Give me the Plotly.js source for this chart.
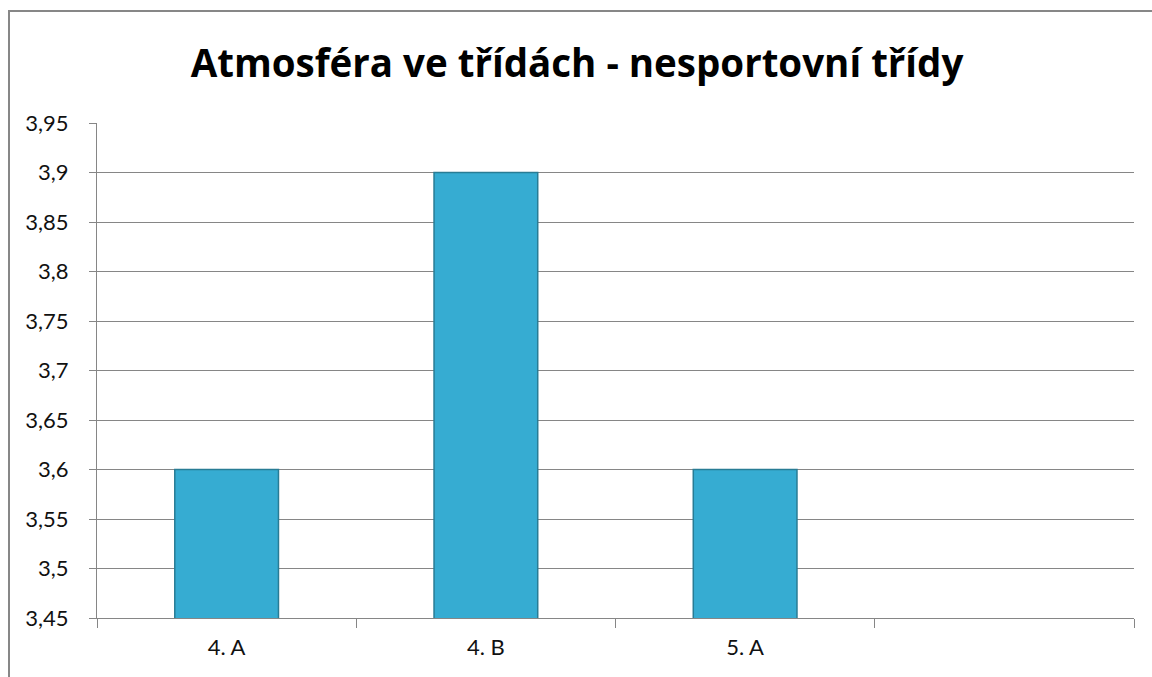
<!DOCTYPE html>
<html>
<head>
<meta charset="utf-8">
<script src="https://cdn.plot.ly/plotly-3.0.1.min.js"></script>
<style>
html,body{margin:0;padding:0;background:#fff;}
#chart{width:1152px;height:677px;}
</style>
</head>
<body>
<div id="chart"></div>
<script>
const categories = ["4. A", "4. B", "5. A", " "];
const values = [3.6, 3.9, 3.6, null];
const chartTitle = "Atmosféra ve třídách - nesportovní třídy";

const trace = {
  type: "bar",
  x: categories,
  y: values,
  width: 0.4,
  marker: {
    color: "#36ACD2",
    line: {color: "#287C95", width: 1.5}
  },
  hoverinfo: "x+y"
};

const tickFont = {size: 22, family: "Lato, 'Open Sans', sans-serif", color: "#111"};

const layout = {
  width: 1152,
  height: 677,
  margin: {l: 97, r: 18, t: 123, b: 59},
  paper_bgcolor: "#ffffff",
  plot_bgcolor: "#ffffff",
  separators: ", ",
  showlegend: false,
  font: {family: "Lato, 'Open Sans', sans-serif", color: "#000"},
  title: {
    text: "<b>" + chartTitle + "</b>",
    font: {family: "'Open Sans', Lato, sans-serif", size: 38.5, color: "#000"},
    x: 577/1152, xref: "container", xanchor: "center",
    y: 1 - 64/677, yref: "container", yanchor: "middle"
  },
  xaxis: {
    type: "category",
    range: [-0.5, 3.5],
    tickson: "boundaries",
    ticks: "outside",
    ticklen: 9,
    tickcolor: "#868686",
    showline: true,
    linecolor: "#868686",
    linewidth: 1,
    showgrid: false,
    tickfont: tickFont,
    ticklabelstandoff: 10,
    fixedrange: true
  },
  yaxis: {
    range: [3.45, 3.95],
    dtick: 0.05,
    tick0: 3.45,
    ticks: "outside",
    ticklen: 7,
    tickcolor: "#868686",
    showline: true,
    linecolor: "#868686",
    showgrid: true,
    gridcolor: "#868686",
    gridwidth: 1,
    zeroline: false,
    tickfont: tickFont,
    ticklabelstandoff: 16,
    fixedrange: true
  },
  shapes: [{
    type: "rect", xref: "paper", yref: "paper",
    x0: (9 - 97) / 1037, x1: 1.2,
    y0: -0.3, y1: (618 - 11) / 495,
    line: {color: "#878787", width: 2},
    fillcolor: "rgba(0,0,0,0)",
    layer: "below"
  }]
};

Plotly.newPlot("chart", [trace], layout, {displayModeBar: false, staticPlot: true});
</script>
</body>
</html>
